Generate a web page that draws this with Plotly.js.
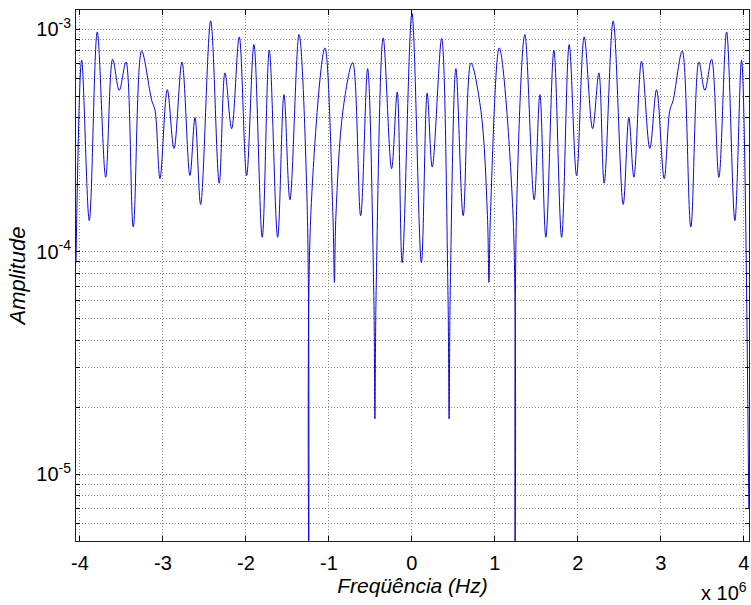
<!DOCTYPE html>
<html>
<head>
<meta charset="utf-8">
<script src="https://cdn.plot.ly/plotly-3.0.1.min.js"></script>
<style>html,body{margin:0;padding:0;background:#fff;}#chart{width:751px;height:605px;}</style>
</head>
<body>
<div id="chart"></div>
<script>
// Frequency in MHz (axis shown as x 10^6 Hz)
const freqMHz = [
  -4.048, -3.980, -3.888, -3.792, -3.690, -3.606, -3.527, -3.446, -3.358, -3.257,
  -3.136, -3.096, -3.036, -2.948, -2.867, -2.771, -2.675, -2.614, -2.546, -2.425,
  -2.322, -2.253, -2.172, -2.081, -1.992, -1.904, -1.804, -1.719, -1.618, -1.542,
  -1.470, -1.361, -1.261, -1.241, -1.219, -1.048, -0.952, -0.934, -0.916, -0.831,
  -0.714, -0.618, -0.534, -0.460, -0.446, -0.431, -0.346, -0.245, -0.177, -0.117,
  0.000,
  0.114, 0.184, 0.245, 0.358, 0.434, 0.448, 0.462, 0.530, 0.618, 0.711,
  0.831, 0.910, 0.928, 0.946, 1.052, 1.219, 1.241, 1.261, 1.361, 1.473,
  1.542, 1.614, 1.711, 1.804, 1.895, 1.984, 2.076, 2.177, 2.253, 2.317,
  2.425, 2.546, 2.614, 2.675, 2.767, 2.867, 2.948, 3.040, 3.108, 3.148,
  3.257, 3.361, 3.458, 3.530, 3.611, 3.699, 3.792, 3.892, 3.972, 4.060
];
const amplitude = [
  8.92e-5, 7.25e-4, 1.38e-4, 9.72e-4, 2.16e-4, 7.33e-4, 5.31e-4, 7.12e-4, 1.29e-4, 7.98e-4,
  4.79e-4, 4.32e-4, 2.13e-4, 5.35e-4, 2.91e-4, 7.12e-4, 2.20e-4, 4.01e-4, 1.63e-4, 1.09e-3,
  2.03e-4, 6.36e-4, 3.57e-4, 9.23e-4, 2.20e-4, 8.53e-4, 1.16e-4, 8.04e-4, 1.16e-4, 5.08e-4,
  1.71e-4, 9.46e-4, 1.53e-4, 2.0e-6, 1.45e-4, 8.24e-4, 1.45e-4, 7.27e-5, 1.45e-4, 4.32e-4,
  7.08e-4, 1.45e-4, 6.65e-4, 6.67e-5, 1.77e-5, 6.67e-5, 9.14e-4, 2.36e-4, 5.22e-4, 8.92e-5,
  1.18e-3,
  8.92e-5, 5.16e-4, 2.40e-4, 9.08e-4, 6.67e-5, 1.77e-5, 6.67e-5, 6.65e-4, 1.45e-4, 7.05e-4,
  4.32e-4, 1.45e-4, 7.27e-5, 1.45e-4, 8.24e-4, 1.45e-4, 2.0e-6, 1.53e-4, 9.46e-4, 1.71e-4,
  5.08e-4, 1.16e-4, 8.04e-4, 1.16e-4, 8.53e-4, 2.20e-4, 9.23e-4, 3.57e-4, 6.36e-4, 2.03e-4,
  1.09e-3, 1.63e-4, 4.01e-4, 2.16e-4, 7.18e-4, 2.91e-4, 5.35e-4, 2.13e-4, 4.32e-4, 4.79e-4,
  7.98e-4, 1.29e-4, 7.12e-4, 5.31e-4, 7.33e-4, 2.16e-4, 9.72e-4, 1.38e-4, 7.25e-4, 7.03e-6
];

const xTickVals = [-4, -3, -2, -1, 0, 1, 2, 3, 4];
const xTickText = ['-4', '-3', '-2', '-1', '0', '1', '2', '3', '4'];
const yTickVals = [
  5e-6, 6e-6, 7e-6, 8e-6, 9e-6,
  1e-5, 2e-5, 3e-5, 4e-5, 5e-5, 6e-5, 7e-5, 8e-5, 9e-5,
  1e-4, 2e-4, 3e-4, 4e-4, 5e-4, 6e-4, 7e-4, 8e-4, 9e-4,
  1e-3
];
const yTickText = [
  '', '', '', '', '',
  '10<sup>-5</sup>', '', '', '', '', '', '', '', '',
  '10<sup>-4</sup>', '', '', '', '', '', '', '', '',
  '10<sup>-3</sup>'
];

const SCALE = 1e6;
const trace = {
  x: freqMHz.map(v => v * SCALE),
  y: amplitude,
  type: 'scatter',
  mode: 'lines',
  line: {color: 'rgb(10,10,215)', width: 1, shape: 'spline', smoothing: 1},
  hoverinfo: 'x+y'
};

const fontFam = 'Liberation Sans, Arial, sans-serif';
const gridCol = 'rgba(110,110,110,0.8)';
const layout = {
  width: 751, height: 605,
  margin: {l: 76, r: 2, t: 10, b: 64, pad: 0},
  paper_bgcolor: '#ffffff', plot_bgcolor: '#ffffff',
  showlegend: false,
  font: {family: fontFam, size: 20, color: '#000'},
  xaxis: {
    range: [-4.048e6, 4.062e6],
    tickvals: xTickVals.map(v => v * SCALE), ticktext: xTickText,
    ticks: 'inside', ticklen: 5, tickcolor: '#000', tickwidth: 1,
    showline: true, linecolor: '#222', linewidth: 1, mirror: 'ticks',
    showgrid: true, gridcolor: gridCol, griddash: '1px,2px', gridwidth: 1,
    zeroline: false,
    tickfont: {family: fontFam, size: 20, color: '#000'},
    ticklabelstandoff: 4,
    title: {text: '<i>Freqüência (Hz)</i>', font: {family: fontFam, size: 21, color: '#000'}, standoff: 0},
    automargin: false
  },
  yaxis: {
    type: 'log',
    range: [Math.log10(5e-6), Math.log10(1.22e-3)],
    tickvals: yTickVals, ticktext: yTickText,
    ticks: 'inside', ticklen: 4, tickcolor: '#000', tickwidth: 1,
    showline: true, linecolor: '#222', linewidth: 1, mirror: 'ticks',
    showgrid: true, gridcolor: gridCol, griddash: '1px,2px', gridwidth: 1,
    zeroline: false,
    tickfont: {family: fontFam, size: 20, color: '#000'},
    title: {text: '<i>Amplitude</i>', font: {family: fontFam, size: 22, color: '#000'}, standoff: 4},
    automargin: false
  },
  annotations: [{
    text: 'x 10<sup>6</sup>', xref: 'paper', yref: 'paper',
    x: 1.0, y: 0, xanchor: 'right', yanchor: 'top', yshift: -36,
    showarrow: false, font: {family: fontFam, size: 20, color: '#000'}
  }]
};

Plotly.newPlot('chart', [trace], layout, {displayModeBar: false, staticPlot: true});
</script>
</body>
</html>
